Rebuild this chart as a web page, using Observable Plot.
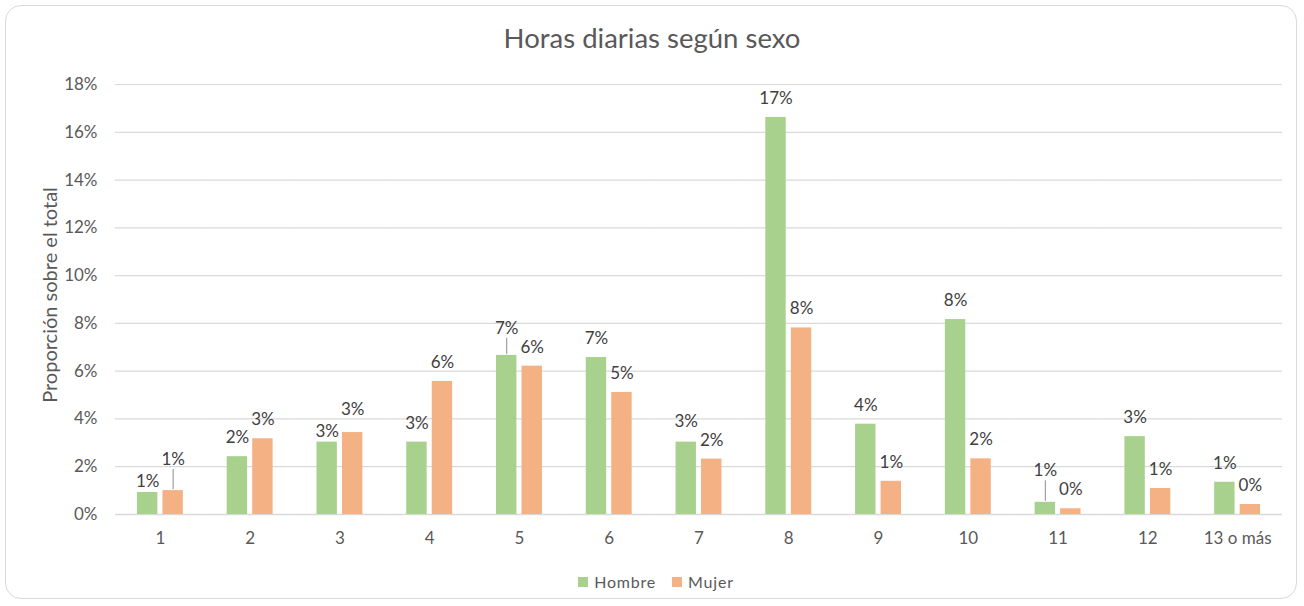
<!DOCTYPE html>
<html>
<head>
<meta charset="utf-8">
<script src="https://cdn.jsdelivr.net/npm/d3@7"></script>
<script src="https://cdn.jsdelivr.net/npm/@observablehq/plot@0.6"></script>
<style>
  html, body { margin: 0; padding: 0; background: #fff; }
  #wrap { position: relative; width: 1304px; height: 606px; overflow: hidden; font-family: Lato, "Open Sans", sans-serif; }
  #frame { position: absolute; left: 5px; top: 5px; width: 1292px; height: 594px; border: 1.5px solid #d9d9d9; border-radius: 16px; box-sizing: border-box; }
  #title { position: absolute; left: 0; top: 21px; width: 1304px; text-align: center; font-size: 27.5px; line-height: 1.2; color: #595959; }
  #ytitle { position: absolute; left: 49px; top: 295px; transform: translate(-50%, -50%) rotate(-90deg); white-space: nowrap; font-size: 20px; color: #595959; }
  #legend { position: absolute; left: 4px; top: 571px; height: 21px; width: 1304px; display: flex; justify-content: center; align-items: center; font-family: Lato, "Open Sans", sans-serif; font-size: 16px; color: #595959; letter-spacing: 0.8px; }
  #legend .item { display: flex; align-items: center; margin: 0 8px; }
  #legend .sw { width: 10px; height: 10px; margin-right: 6px; }
  #chart { position: absolute; left: 0; top: 0; }
</style>
</head>
<body>
<div id="wrap">
  <div id="frame"></div>
  <div id="chart"></div>
  <div id="title">Horas diarias según sexo</div>
  <div id="ytitle">Proporción sobre el total</div>
  <div id="legend"></div>
</div>
<script>
const categories = ["1", "2", "3", "4", "5", "6", "7", "8", "9", "10", "11", "12", "13 o más"];
const hombre = [0.0092, 0.0242, 0.0303, 0.0303, 0.0666, 0.0657, 0.0303, 0.1662, 0.0378, 0.0816, 0.0051, 0.0326, 0.0135];
const mujer  = [0.0100, 0.0317, 0.0343, 0.0557, 0.0621, 0.0511, 0.0232, 0.0781, 0.0139, 0.0233, 0.0024, 0.0109, 0.0042];
const series = ["Hombre", "Mujer"];
const colors = ["#a9d18e", "#f4b183"];
const yTicks = [0, 0.02, 0.04, 0.06, 0.08, 0.10, 0.12, 0.14, 0.16, 0.18];

// Layout
const W = 1304, H = 606, mL = 115, mR = 22, mT = 84, mB = 92;
const yMax = 0.18;
const pxPerUnit = (H - mT - mB) / yMax;

const pct = d3.format(".0%");

// Data table + simple label collision avoidance (like the spreadsheet's automatic label placement)
const data = [];
const leaders = [];
categories.forEach((c, i) => {
  const vH = hombre[i] * pxPerUnit, vM = mujer[i] * pxPerUnit;
  let h = vH + 19, m = vM + 19;
  if (Math.abs(h - m) < 17) {
    if (vH <= vM) {
      h = vH + 11;
      if (m - h < 22) m = h + 22;
    } else {
      h = Math.max(h, m + 19);
    }
  }
  const rows = [
    {cat: c, sexo: series[0], value: hombre[i], labelY: h / pxPerUnit},
    {cat: c, sexo: series[1], value: mujer[i], labelY: m / pxPerUnit}
  ];
  rows.forEach(r => {
    data.push(r);
    const gap = (r.labelY - r.value) * pxPerUnit;
    if (gap > 25) leaders.push({cat: r.cat, sexo: r.sexo, y1: r.value + 1 / pxPerUnit, y2: r.labelY - 10 / pxPerUnit});
  });
});

const chart = Plot.plot({
  width: W,
  height: H,
  marginLeft: mL,
  marginRight: mR,
  marginTop: mT,
  marginBottom: mB,
  style: {background: "transparent", fontFamily: "Lato, 'Open Sans', sans-serif", fontSize: "17px", color: "#595959"},
  fx: {domain: categories, padding: 0, round: false, axis: "bottom", label: null, tickSize: 0, tickPadding: 17},
  x: {domain: series, paddingInner: 0.2, paddingOuter: 0.86, round: false, axis: null},
  y: {domain: [0, yMax], ticks: yTicks, tickFormat: pct, label: null, tickSize: 0, tickPadding: 18},
  color: {domain: series, range: colors},
  marks: [
    Plot.ruleY(yTicks.slice(1), {stroke: "#d9d9d9", strokeWidth: 1.2}),
    Plot.ruleY([0], {stroke: "#d9d9d9", strokeWidth: 1.6}),
    Plot.barY(data, {fx: "cat", x: "sexo", y: "value", fill: "sexo"}),
    Plot.ruleX(leaders, {fx: "cat", x: "sexo", y1: "y1", y2: "y2", stroke: "#8c8c8c", strokeWidth: 1}),
    Plot.text(data, {fx: "cat", x: "sexo", y: "labelY", text: d => pct(d.value), fill: "#404040", fontSize: 17, lineAnchor: "middle"})
  ]
});
document.getElementById("chart").appendChild(chart);

const legend = document.getElementById("legend");
series.forEach((s, i) => {
  const item = document.createElement("div");
  item.className = "item";
  const sw = document.createElement("span");
  sw.className = "sw";
  sw.style.background = colors[i];
  const t = document.createElement("span");
  t.textContent = s;
  item.appendChild(sw);
  item.appendChild(t);
  legend.appendChild(item);
});
</script>
</body>
</html>
